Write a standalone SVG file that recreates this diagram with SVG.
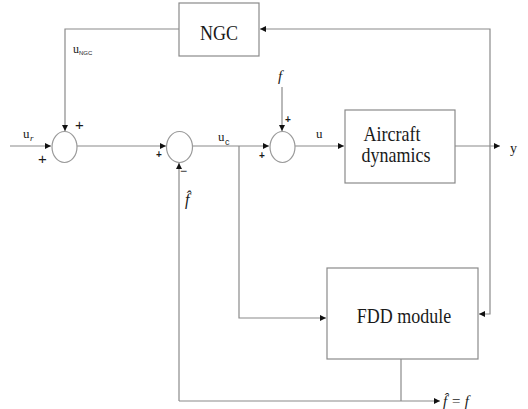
<svg xmlns="http://www.w3.org/2000/svg" width="528" height="409" viewBox="0 0 528 409">
<style>
.ln{fill:none;stroke:#8a8a8a;stroke-width:1.2}
.bx{fill:#fff;stroke:#8a8a8a;stroke-width:1.2}
.sum{fill:#fff;stroke:#9a9a9a;stroke-width:1.2}
.t{font-family:'Liberation Serif','Times New Roman','DejaVu Serif',serif;fill:#1a1a1a}
.s{font-family:'Liberation Sans',Arial,sans-serif;fill:#1a1a1a}
.i{font-style:italic}
</style>
<defs>
<marker id="ar" markerWidth="7" markerHeight="6" refX="6" refY="3" orient="auto" markerUnits="userSpaceOnUse">
<path d="M0,0 L6,3 L0,6 Z" fill="#111"/>
</marker>
</defs>
<rect width="528" height="409" fill="#fff"/>
<g id="connectors">
<path class="ln" d="M179,29 H65 V131" marker-end="url(#ar)"/>
<path class="ln" d="M10,146 H51" marker-end="url(#ar)"/>
<path class="ln" d="M77,146 H166" marker-end="url(#ar)"/>
<path class="ln" d="M192,146 H269" marker-end="url(#ar)"/>
<path class="ln" d="M239,146 V318 H326" marker-end="url(#ar)"/>
<path class="ln" d="M282,87 V131" marker-end="url(#ar)"/>
<path class="ln" d="M295,146 H344" marker-end="url(#ar)"/>
<path class="ln" d="M455,146 H500" marker-end="url(#ar)"/>
<path class="ln" d="M490,146 V29 H260" marker-end="url(#ar)"/>
<path class="ln" d="M490,146 V314 H479" marker-end="url(#ar)"/>
<path class="ln" d="M401,359 V401"/>
<path class="ln" d="M179,401 H440" marker-end="url(#ar)"/>
<path class="ln" d="M179,401 V163" marker-end="url(#ar)"/>
</g>
<g id="ngc">
<rect class="bx" x="179" y="3" width="80" height="53"/>
<text class="t" font-size="18" text-anchor="middle" transform="translate(219,40) scale(1,1.15)">NGC</text>
</g>
<g id="sum1">
<ellipse class="sum" cx="64.5" cy="147" rx="12.5" ry="15.5"/>
</g>
<g id="sum2">
<ellipse class="sum" cx="179.5" cy="147" rx="13" ry="15.5"/>
</g>
<g id="sum3">
<ellipse class="sum" cx="282.5" cy="147" rx="12.5" ry="15.5"/>
</g>
<g id="aircraft">
<rect class="bx" x="345" y="110" width="110" height="73"/>
<text class="t" font-size="18" text-anchor="middle" transform="translate(392,141) scale(1,1.15)">Aircraft</text>
<text class="t" font-size="18" text-anchor="middle" transform="translate(396,162) scale(1,1.15)">dynamics</text>
</g>
<g id="fdd">
<rect class="bx" x="327" y="268" width="151" height="91"/>
<text class="t" font-size="18" text-anchor="middle" transform="translate(404,323) scale(1,1.15)">FDD module</text>
</g>
<g id="labels">
<text class="t" x="23" y="138" font-size="13">u</text>
<text class="t i" x="30" y="141" font-size="9">r</text>
<text class="t" x="73" y="53" font-size="12">u</text>
<text class="s" x="79" y="55" font-size="6">NGC</text>
<text class="s" x="38" y="164" font-size="15">+</text>
<text class="s" x="75" y="130" font-size="15">+</text>
<text class="s" x="156" y="158" font-size="10" font-weight="bold">+</text>
<text class="s" x="180" y="175" font-size="12">−</text>
<text class="t i" x="185" y="205" font-size="16">f̂</text>
<text class="t" x="218" y="141" font-size="13">u</text>
<text class="s" x="225" y="145" font-size="9">c</text>
<text class="t i" x="278" y="81" font-size="15">f</text>
<text class="s" x="285" y="123" font-size="10" font-weight="bold">+</text>
<text class="s" x="259" y="159" font-size="10" font-weight="bold">+</text>
<text class="t" x="316" y="138" font-size="13">u</text>
<text class="t" x="510" y="153" font-size="14">y</text>
<text class="t i" x="443" y="406" font-size="15">f̂ = f</text>
</g>
</svg>
